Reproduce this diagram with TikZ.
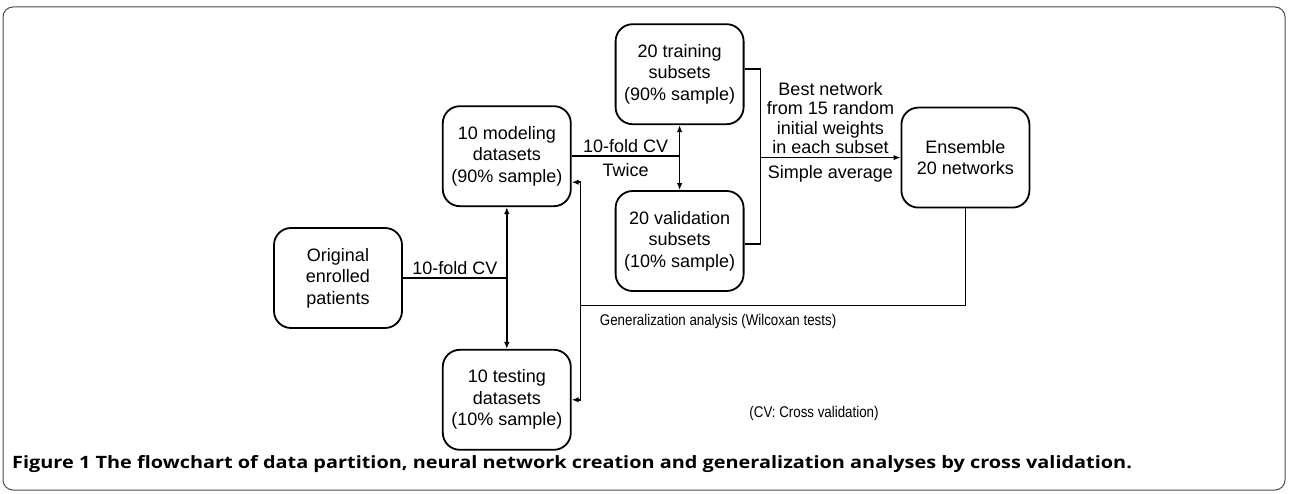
\documentclass[tikz,border=0pt]{standalone}
\usepackage{fontspec}
\setmainfont{Liberation Sans}
\newfontfamily\narrowfont[FakeStretch=0.86]{Liberation Sans}
\newfontfamily\capfont[FakeStretch=1.17]{Open Sans}
\usetikzlibrary{arrows.meta, positioning, calc}

\begin{document}
\begin{tikzpicture}[
      x=1pt, y=-1pt,
      node distance=20pt and 39pt,
      box/.style={draw, line width=1.8pt, rounded corners=17pt, align=center, minimum width=128pt,
                  minimum height=100pt, inner sep=0pt, font=\fontsize{18}{21.5}\selectfont},
      lbl/.style={font=\fontsize{18}{19.5}\selectfont, align=center, inner sep=3pt},
      note/.style={font=\narrowfont\fontsize{15.5}{18}\selectfont, inner sep=0pt},
      ln/.style={line width=1.5pt},
      arr/.style={ln, -{Latex[length=7pt, width=5.5pt]}},
      dbl/.style={ln, {Latex[length=7pt, width=5.5pt]}-{Latex[length=7pt, width=5.5pt]}}
    ]
    \useasboundingbox (0,0) rectangle (1290,494);
    \draw[line width=1pt, black!70, rounded corners=10pt] (3,7) rectangle (1285,490);

    \node[box] (orig) at (338,278) {Original\\enrolled\\patients};
    \node[box, above right=of orig] (model) {10 modeling\\datasets\\(90\% sample)};
    \node[box, below right=of orig] (test) {10 testing\\datasets\\(10\% sample)};
    \node[box, right=43pt of model, yshift=82pt] (train) {20 training\\subsets\\(90\% sample)};
    \node[box, below=65pt of train] (valid) {20 validation\\subsets\\(10\% sample)};
    \coordinate (mid) at ($(train.east)!0.5!(valid.east)$);
    \coordinate[right=16pt of mid] (join);
    \node[box, right=140pt of join] (ens) {Ensemble\\20 networks};
    \coordinate[below=97pt of ens.south] (genr);
    \coordinate[right=9pt of model.east] (genx);
    \coordinate (gen) at (genx |- genr);

    \draw[ln] (orig.east) -- (orig.east -| model.south)
      node[lbl, midway, above] {10-fold CV};
    \draw[dbl] (model.south) -- (test.north);
    \draw[ln] (model.east) -- (model.east -| train.south)
      node[lbl, midway, above] {10-fold CV}
      node[lbl, midway, below, yshift=-4pt] {Twice};
    \draw[dbl] (train.south) -- (valid.north);
    \draw[ln] ([yshift=5pt]train.east) -| (join) |- ([yshift=-3pt]valid.east);
    \draw[arr] (join) -- (ens.west)
      node[lbl, midway, above] {Best network\\from 15 random\\initial weights\\in each subset}
      node[lbl, midway, below, yshift=-4pt] {Simple average};
    \draw[ln] (ens.south) |- (gen);
    \draw[arr] (gen) |- ([yshift=-26pt]model.east);
    \draw[arr] (gen) |- (test.east);

    \node[note, anchor=north west] (gentxt) at ([xshift=19pt, yshift=-9pt]gen) {Generalization analysis (Wilcoxan tests)};
    \node[note] (cvnote) at (814,413) {(CV: Cross validation)};
    \node[anchor=west, inner sep=0pt, font=\capfont\bfseries\fontsize{17}{20}\selectfont] (cap) at (12,464)
      {Figure 1 The flowchart of data partition, neural network creation and generalization analyses by cross validation.};
  \end{tikzpicture}
\end{document}
